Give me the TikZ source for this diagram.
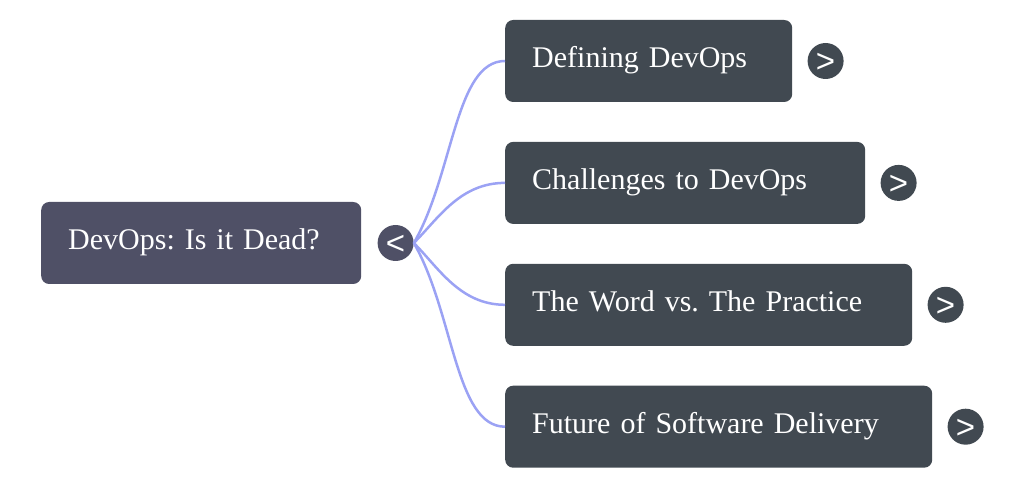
\documentclass[tikz,border=0pt]{standalone}
\usepackage{fontspec}
\setmainfont{Liberation Serif}
\setsansfont{Liberation Sans}
\usepackage{tikz}
\usetikzlibrary{positioning}
\definecolor{rootgray}{RGB}{79, 80, 102}
\definecolor{topicgray}{RGB}{65, 73, 81}
\definecolor{linkblue}{RGB}{155, 162, 244}
\frenchspacing
\tikzstyle{topic} = [rectangle,rounded corners=8pt,fill=topicgray,text=white,font=\fontsize{30}{36}\selectfont,inner xsep=27pt,inner ysep=0pt,minimum height=82pt,text height=20pt,text depth=7pt,align=left]
\tikzstyle{roottopic} = [topic,fill=rootgray]
\tikzstyle{fold} = [circle,fill=topicgray,text=white,font=\sffamily\fontsize{33}{33}\selectfont,inner sep=0pt,minimum size=36pt,text height=23.4pt,text depth=0pt]
\tikzstyle{link} = [draw=linkblue,line width=2.5pt,in=180]

\begin{document}
\begin{tikzpicture}[x=1pt,y=1pt]
    \useasboundingbox (0,0) rectangle (1024,487);

      \node[roottopic,text width=266pt,anchor=west] (root) at (41,244) {DevOps: Is it Dead?};
      \node[fold,fill=rootgray,right=16pt of root] (rb) {<};

      \node[topic,text width=233pt,anchor=west] (c1) at (505,426) {Defining DevOps};
      \node[topic,text width=306pt,below=39.5pt of c1.south west,anchor=north west] (c2) {Challenges to DevOps};
      \node[topic,text width=353pt,below=39.5pt of c2.south west,anchor=north west] (c3) {The Word vs. The Practice};
      \node[topic,text width=373pt,below=39.5pt of c3.south west,anchor=north west] (c4) {Future of Software Delivery};

      \foreach \c in {c1,c2,c3,c4}
        \node[fold,right=15pt of \c] (\c b) {>};

      \path[link]
        \foreach \c/\a/\d/\e in {c1/60/80/50,c2/45/35/45,c3/-45/35/45,c4/-60/80/50} {
          (rb.east) edge[out=\a,out distance=\d pt,in distance=\e pt] (\c.west)
        } ;
    \end{tikzpicture}
\end{document}
